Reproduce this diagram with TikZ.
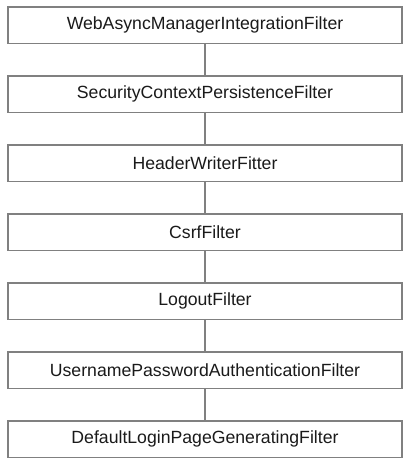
\documentclass[tikz,border=0pt]{standalone}
\usepackage{fontspec}
\setmainfont{Liberation Sans}
\usetikzlibrary{positioning}
\definecolor{ink}{HTML}{1A1A1A}
\definecolor{edgegray}{HTML}{808080}
\definecolor{paper}{HTML}{FFFFFF}
\tikzset{
  filterbox/.style={draw=edgegray,fill=paper,line width=0.75pt,align=center,minimum width=7.88cm,minimum height=0.73cm,inner sep=0pt,text=ink,font=\fontsize{10.05}{12}\selectfont},
  chainline/.style={draw=edgegray,line width=0.75pt}
}
\begin{document}
\begin{tikzpicture}[x=1cm,y=1cm]
  \useasboundingbox (0,0) rectangle (8.26,-9.34);
  \node[filterbox] (webasync) at (4.10,-0.505) {WebAsyncManagerIntegrationFilter};
  \node[filterbox] (seccontext) at (4.10,-1.885) {SecurityContextPersistenceFilter};
  \node[filterbox] (header) at (4.10,-3.265) {HeaderWriterFitter};
  \node[filterbox] (csrf) at (4.10,-4.645) {CsrfFilter};
  \node[filterbox] (logout) at (4.10,-6.025) {LogoutFilter};
  \node[filterbox] (userpass) at (4.10,-7.405) {UsernamePasswordAuthenticationFilter};
  \node[filterbox] (loginpage) at (4.10,-8.785) {DefaultLoginPageGeneratingFilter};
  \draw[chainline] (webasync) -- (seccontext);
  \draw[chainline] (seccontext) -- (header);
  \draw[chainline] (header) -- (csrf);
  \draw[chainline] (csrf) -- (logout);
  \draw[chainline] (logout) -- (userpass);
  \draw[chainline] (userpass) -- (loginpage);
\end{tikzpicture}
\end{document}
